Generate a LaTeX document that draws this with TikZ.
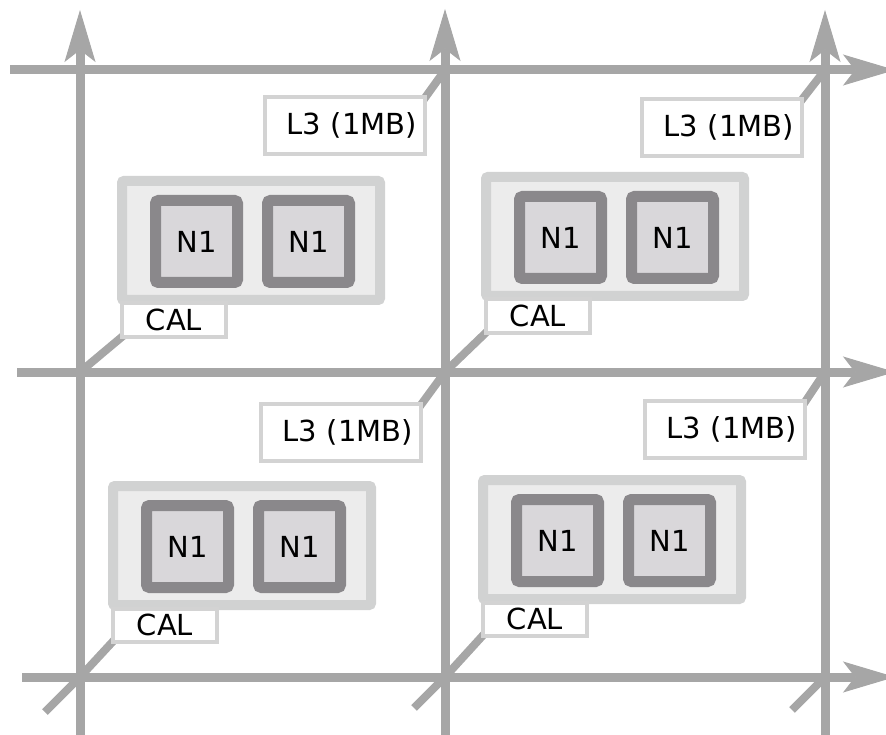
\documentclass[tikz,border=0pt]{standalone}
\usepackage{fontspec}
\setmainfont{DejaVu Sans}
\usetikzlibrary{arrows.meta,backgrounds}
\definecolor{wiregray}{HTML}{A6A6A6}
\definecolor{tileedge}{HTML}{D1D2D2}
\definecolor{tilefill}{HTML}{ECECEC}
\definecolor{coreedge}{HTML}{8A888B}
\definecolor{corefill}{HTML}{D9D7DA}
\definecolor{tagedge}{HTML}{D3D3D3}
\begin{document}
\begin{tikzpicture}[x=1pt,y=-1pt,
  wire/.style={draw=wiregray,line width=9pt,-{Stealth[length=52pt,width=31pt,inset=12pt,line width=1pt]}},
  link/.style={draw=wiregray,line width=8pt},
  tile/.style={draw=tileedge,fill=tilefill,line width=10pt,rounded corners=2pt,minimum width=258pt,minimum height=119pt,inner sep=0pt},
  core/.style={draw=coreedge,fill=corefill,line width=11pt,rounded corners=3pt,minimum width=82pt,minimum height=82pt,inner sep=0pt,font=\fontsize{29}{33}\selectfont},
  cal/.style={draw=tagedge,fill=white,line width=4pt,minimum width=104pt,minimum height=33pt,inner sep=0pt,font=\fontsize{29}{33}\selectfont},
  cache/.style={draw=tagedge,fill=white,line width=4pt,text width=144pt,align=right,inner xsep=8pt,inner ysep=0pt,minimum height=57pt,font=\fontsize{29}{33}\selectfont}]
\useasboundingbox (0,0) rectangle (886,735);

\foreach \i/\x in {1/80,2/445,3/825}
  \foreach \j/\y in {1/70,2/372,3/677}
    \coordinate (x\i\j) at (\x,\y);
\coordinate (t1) at (45,712);
\coordinate (t2) at (414,708);
\coordinate (t3) at (792,710);

\foreach \n/\bx/\by/\lx/\ly in {a/117/176/263/95, b/481/172/640/97, c/108/481/259/402, d/478/475/643/399} {
  \node[tile] (tile\n) at ({\bx+134},{\by+64.5}) {};
  \node[core] (core\n1) at ({\bx+79.5},{\by+65.5}) {N1};
  \node[core] (core\n2) at ({\bx+191.5},{\by+65.5}) {N1};
  \node[cal] (cal\n) at ({\bx+57},{\by+144}) {CAL};
  \node[cache] (cache\n) at ({\lx+82},{\ly+30.5}) {L3 (1MB)};
}

\begin{scope}[on background layer]
\draw[wire] (80,740) -- (80,10);
\draw[wire] (445,740) -- (445,9);
\draw[wire] (825,740) -- (825,10);
\draw[wire] (10,70) -- (895,70);
\draw[wire] (17,372) -- (895,372);
\draw[wire] (22,677) -- (895,677);

\foreach \n/\lo/\up in {a/x12/x21, b/x22/x31, c/x13/x22, d/x23/x32} {
  \draw[link,shorten >=-8pt] (\lo) -- (cal\n.south west);
  \draw[link,shorten <=-8pt] (cache\n.north east) -- (\up);
}
\draw[link] (t1) -- (x13);
\draw[link] (t2) -- (x23);
\draw[link] (t3) -- (x33);
\end{scope}
\end{tikzpicture}
\end{document}
